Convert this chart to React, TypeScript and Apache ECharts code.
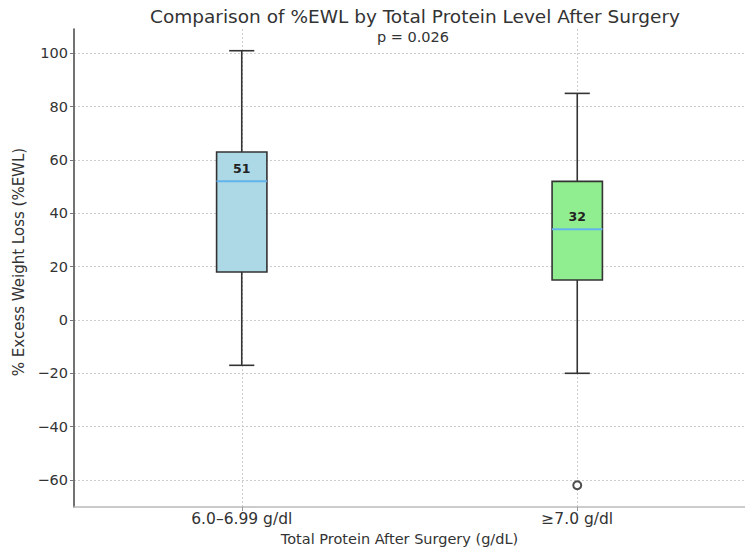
import React, { useEffect, useRef } from "react";
import * as echarts from "echarts";

// Groups on the x axis
const categories = ["6.0–6.99 g/dl", "≥7.0 g/dl"];
// Five-number summaries per group: [min whisker, Q1, median, Q3, max whisker]
const whiskerLow = [-17, -20];
const q1 = [18, 15];
const median = [52, 34];
const q3 = [63, 52];
const whiskerHigh = [101, 85];
// Mean %EWL printed inside each box
const means = [51, 32];
// Points beyond the whiskers: [group index, value]
const outliers: [number, number][] = [[1, -62]];
// Y axis tick values
const yTicks = [-60, -40, -20, 0, 20, 40, 60, 80, 100];
const boxFill = ["#ADD8E6", "#90EE90"];

const FONT = "DejaVu Sans";

export default function App() {
  const ref = useRef<HTMLDivElement>(null);

  useEffect(() => {
    if (!ref.current) return;
    const chart = echarts.init(ref.current, undefined, { renderer: "svg" });

    const boxData = categories.map((_, i) => [
      i + 1,
      whiskerLow[i],
      q1[i],
      median[i],
      q3[i],
      whiskerHigh[i],
      means[i],
      i,
    ]);

    const edge = "#333333";

    chart.setOption({
      animation: false,
      backgroundColor: "#ffffff",
      title: [
        {
          text: "Comparison of %EWL by Total Protein Level After Surgery",
          left: 410,
          top: 2,
          textAlign: "center",
          textStyle: { fontFamily: FONT, fontSize: 18.5, fontWeight: "normal", color: "#333" },
        },
        {
          text: "p = 0.026",
          left: 408,
          top: 24,
          textAlign: "center",
          textStyle: { fontFamily: FONT, fontSize: 14.5, fontWeight: "normal", color: "#333" },
        },
      ],
      grid: { left: 74, right: 8, top: 29, bottom: 48, containLabel: false },
      xAxis: {
        type: "value",
        min: 0.5,
        max: 2.5,
        name: "Total Protein After Surgery (g/dL)",
        nameLocation: "middle",
        nameGap: 24,
        nameTextStyle: { fontFamily: FONT, fontSize: 14.5, color: "#333", padding: [0, 20, 0, 0] },
        axisLine: { show: true, onZero: false, lineStyle: { color: "#bbbbbb", width: 1.5 } },
        axisTick: { show: true, customValues: [1, 2], length: 4, lineStyle: { color: "#999" } },
        axisLabel: {
          customValues: [1, 2],
          formatter: (v: number) => categories[Math.round(v) - 1] ?? "",
          fontFamily: FONT,
          fontSize: 15.5,
          color: "#333",
          margin: 4,
        },
        splitLine: { show: true, lineStyle: { color: "#cccccc", type: [2, 2], width: 1 } },
      },
      yAxis: {
        type: "value",
        min: -70.15,
        max: 109.15,
        name: "% Excess Weight Loss (%EWL)",
        nameLocation: "middle",
        nameGap: 44,
        nameRotate: 90,
        nameTextStyle: { fontFamily: FONT, fontSize: 15, color: "#333", padding: [0, 0, 0, 12] },
        axisLine: { show: true, onZero: false, lineStyle: { color: "#444", width: 1.5 } },
        axisTick: { show: true, customValues: yTicks, length: 4, lineStyle: { color: "#777" } },
        axisLabel: {
          customValues: yTicks,
          fontFamily: FONT,
          fontSize: 14.5,
          color: "#333",
          margin: 6,
          formatter: (v: number) => (v < 0 ? "−" + Math.abs(v) : String(v)),
        },
        splitLine: { show: true, lineStyle: { color: "#cccccc", type: [2, 2], width: 1 } },
      },
      series: [
        {
          type: "custom",
          data: boxData,
          encode: { x: 0, y: [1, 2, 3, 4, 5] },
          renderItem: (_params: any, api: any) => {
            const x = api.value(0);
            const band = api.size([1, 0])[0];
            const half = band * 0.075;
            const capHalf = half / 2;
            const pLow = api.coord([x, api.value(1)]);
            const pQ1 = api.coord([x, api.value(2)]);
            const pMed = api.coord([x, api.value(3)]);
            const pQ3 = api.coord([x, api.value(4)]);
            const pHigh = api.coord([x, api.value(5)]);
            const cx = pMed[0];
            const idx = api.value(7);
            const lineStyle = { stroke: edge, lineWidth: 1.6 };
            return {
              type: "group",
              children: [
                {
                  type: "line",
                  shape: { x1: cx, y1: pQ3[1], x2: cx, y2: pHigh[1] },
                  style: lineStyle,
                },
                {
                  type: "line",
                  shape: { x1: cx, y1: pQ1[1], x2: cx, y2: pLow[1] },
                  style: lineStyle,
                },
                {
                  type: "line",
                  shape: { x1: cx - capHalf, y1: pHigh[1], x2: cx + capHalf, y2: pHigh[1] },
                  style: lineStyle,
                },
                {
                  type: "line",
                  shape: { x1: cx - capHalf, y1: pLow[1], x2: cx + capHalf, y2: pLow[1] },
                  style: lineStyle,
                },
                {
                  type: "rect",
                  shape: { x: cx - half, y: pQ3[1], width: half * 2, height: pQ1[1] - pQ3[1] },
                  style: { fill: boxFill[idx], stroke: edge, lineWidth: 1.6 },
                },
                {
                  type: "line",
                  shape: { x1: cx - half, y1: pMed[1], x2: cx + half, y2: pMed[1] },
                  style: { stroke: "#63b3ed", lineWidth: 2 },
                },
                {
                  type: "text",
                  x: cx,
                  y: pMed[1] - 6,
                  style: {
                    text: String(api.value(6)),
                    fontFamily: FONT,
                    fontSize: 12.5,
                    fontWeight: "bold",
                    fill: "#222",
                    align: "center",
                    verticalAlign: "bottom",
                  },
                },
              ],
            };
          },
          z: 5,
        },
        {
          type: "scatter",
          data: outliers.map(([g, v]) => [g + 1, v]),
          symbol: "emptyCircle",
          symbolSize: 8,
          itemStyle: { color: "#222", borderColor: "#222", borderWidth: 1.4 },
          z: 6,
        },
      ],
    });

    return () => chart.dispose();
  }, []);

  return <div ref={ref} style={{ width: 753, height: 555, margin: -8 }} />;
}
